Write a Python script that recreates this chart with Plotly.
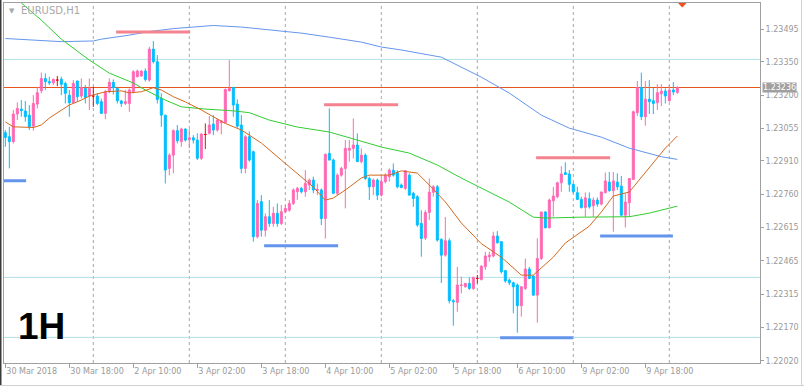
import plotly.graph_objects as go

# ---------------- data ----------------
bar_index = list(range(169))

open_ = [
    1.23035, 1.23017, 1.22995, 1.23118, 1.23140, 1.23131, 1.23113, 1.23064, 1.23162, 1.23222,
    1.23276, 1.23262, 1.23257, 1.23269, 1.23273, 1.23254, 1.23202, 1.23168, 1.23265, 1.23198,
    1.23232, 1.23198, 1.23198, 1.23198, 1.23173, 1.23121, 1.23217, 1.23259, 1.23232, 1.23176,
    1.23165, 1.23165, 1.23217, 1.23284, 1.23287, 1.23309, 1.23269, 1.23407, 1.23351, 1.23187,
    1.23113, 1.22876, 1.22935, 1.23044, 1.22995, 1.23051, 1.23005, 1.23012, 1.23002, 1.22921,
    1.23027, 1.23032, 1.23073, 1.23047, 1.23079, 1.23079, 1.23222, 1.23236, 1.23162, 1.23069,
    1.22876, 1.23017, 1.22950, 1.22572, 1.22728, 1.22601, 1.22661, 1.22631, 1.22676, 1.22631,
    1.22683, 1.22690, 1.22720, 1.22772, 1.22787, 1.22772, 1.22802, 1.22824, 1.22778, 1.22780,
    1.22653, 1.22943, 1.22913, 1.22765, 1.22846, 1.22876, 1.22957, 1.22965, 1.22980, 1.22906,
    1.22935, 1.22831, 1.22794, 1.22824, 1.22757, 1.22817, 1.22839, 1.22868, 1.22857, 1.22802,
    1.22787, 1.22846, 1.22765, 1.22750, 1.22631, 1.22566, 1.22680, 1.22770, 1.22794, 1.22560,
    1.22490, 1.22554, 1.22287, 1.22280, 1.22355, 1.22349, 1.22364, 1.22341, 1.22386, 1.22382,
    1.22438, 1.22483, 1.22486, 1.22575, 1.22550, 1.22421, 1.22379, 1.22367, 1.22357, 1.22265,
    1.22342, 1.22428, 1.22397, 1.22312, 1.22475, 1.22682, 1.22612, 1.22732, 1.22750, 1.22812,
    1.22857, 1.22851, 1.22805, 1.22768, 1.22738, 1.22702, 1.22741, 1.22710, 1.22735, 1.22717,
    1.22768, 1.22815, 1.22777, 1.22815, 1.22797, 1.22668, 1.22723, 1.22827, 1.23124, 1.23236,
    1.23106, 1.23184, 1.23177, 1.23168, 1.23208, 1.23220, 1.23177, 1.23225, 1.23214]

high = [
    1.23047, 1.23061, 1.23136, 1.23170, 1.23180, 1.23176, 1.23158, 1.23202, 1.23239, 1.23303,
    1.23299, 1.23284, 1.23276, 1.23287, 1.23284, 1.23262, 1.23225, 1.23269, 1.23266, 1.23276,
    1.23247, 1.23276, 1.23239, 1.23210, 1.23187, 1.23225, 1.23276, 1.23272, 1.23239, 1.23180,
    1.23225, 1.23232, 1.23313, 1.23316, 1.23313, 1.23321, 1.23417, 1.23443, 1.23380, 1.23210,
    1.23113, 1.22943, 1.23050, 1.23069, 1.23057, 1.23054, 1.23050, 1.23024, 1.23032, 1.23032,
    1.23076, 1.23109, 1.23113, 1.23098, 1.23091, 1.23232, 1.23358, 1.23239, 1.23183, 1.23113,
    1.23024, 1.23040, 1.22955, 1.22735, 1.22757, 1.22676, 1.22735, 1.22705, 1.22720, 1.22713,
    1.22713, 1.22735, 1.22787, 1.22794, 1.22794, 1.22868, 1.22831, 1.22839, 1.22809, 1.22787,
    1.22943, 1.23143, 1.22920, 1.22854, 1.22883, 1.23002, 1.23002, 1.23098, 1.23032, 1.22965,
    1.22943, 1.22839, 1.22831, 1.22831, 1.22839, 1.22854, 1.22876, 1.22898, 1.22868, 1.22809,
    1.22868, 1.22854, 1.22772, 1.22757, 1.22690, 1.22690, 1.22831, 1.22802, 1.22802, 1.22565,
    1.22660, 1.22565, 1.22295, 1.22438, 1.22394, 1.22367, 1.22391, 1.22394, 1.22402, 1.22445,
    1.22505, 1.22505, 1.22594, 1.22597, 1.22550, 1.22424, 1.22386, 1.22372, 1.22364, 1.22352,
    1.22475, 1.22438, 1.22401, 1.22565, 1.22683, 1.22686, 1.22742, 1.22794, 1.22817, 1.22886,
    1.22903, 1.22869, 1.22810, 1.22794, 1.22750, 1.22769, 1.22769, 1.22747, 1.22747, 1.22772,
    1.22857, 1.22860, 1.22860, 1.22854, 1.22842, 1.22765, 1.22833, 1.23133, 1.23265, 1.23302,
    1.23265, 1.23269, 1.23235, 1.23251, 1.23251, 1.23232, 1.23247, 1.23260, 1.23242]

low = [
    1.22972, 1.22876, 1.22987, 1.23091, 1.23106, 1.23084, 1.23047, 1.23044, 1.23143, 1.23210,
    1.23225, 1.23247, 1.23247, 1.23242, 1.23202, 1.23165, 1.23106, 1.23165, 1.23173, 1.23187,
    1.23165, 1.23136, 1.23150, 1.23158, 1.23118, 1.23095, 1.23210, 1.23205, 1.23165, 1.23150,
    1.23158, 1.23128, 1.23210, 1.23281, 1.23284, 1.23262, 1.23262, 1.23343, 1.23165, 1.23061,
    1.22809, 1.22846, 1.22854, 1.22987, 1.22972, 1.22995, 1.22965, 1.22987, 1.22913, 1.22913,
    1.22962, 1.23027, 1.23024, 1.23039, 1.23027, 1.23076, 1.23217, 1.23106, 1.23057, 1.22854,
    1.22854, 1.22906, 1.22550, 1.22564, 1.22572, 1.22572, 1.22616, 1.22616, 1.22616, 1.22624,
    1.22676, 1.22683, 1.22713, 1.22735, 1.22765, 1.22750, 1.22780, 1.22765, 1.22757, 1.22624,
    1.22564, 1.22913, 1.22765, 1.22757, 1.22839, 1.22698, 1.22906, 1.22920, 1.22906, 1.22898,
    1.22824, 1.22735, 1.22757, 1.22735, 1.22750, 1.22809, 1.22817, 1.22839, 1.22787, 1.22787,
    1.22780, 1.22757, 1.22705, 1.22616, 1.22483, 1.22557, 1.22646, 1.22750, 1.22550, 1.22366,
    1.22483, 1.22275, 1.22176, 1.22238, 1.22320, 1.22346, 1.22335, 1.22335, 1.22364, 1.22377,
    1.22424, 1.22461, 1.22480, 1.22542, 1.22408, 1.22367, 1.22357, 1.22231, 1.22145, 1.22216,
    1.22335, 1.22383, 1.22309, 1.22189, 1.22468, 1.22609, 1.22609, 1.22661, 1.22743, 1.22772,
    1.22846, 1.22772, 1.22765, 1.22735, 1.22697, 1.22661, 1.22697, 1.22661, 1.22705, 1.22712,
    1.22765, 1.22772, 1.22594, 1.22780, 1.22664, 1.22613, 1.22661, 1.22824, 1.23109, 1.23091,
    1.23066, 1.23118, 1.23118, 1.23136, 1.23153, 1.23165, 1.23173, 1.23202, 1.23208]

close = [
    1.23014, 1.22995, 1.23118, 1.23143, 1.23133, 1.23106, 1.23061, 1.23165, 1.23213, 1.23276,
    1.23262, 1.23257, 1.23272, 1.23269, 1.23250, 1.23210, 1.23168, 1.23254, 1.23195, 1.23236,
    1.23192, 1.23232, 1.23198, 1.23165, 1.23121, 1.23217, 1.23259, 1.23235, 1.23177, 1.23165,
    1.23173, 1.23225, 1.23306, 1.23309, 1.23309, 1.23272, 1.23407, 1.23351, 1.23183, 1.23113,
    1.22869, 1.22935, 1.23044, 1.22999, 1.23051, 1.23002, 1.23012, 1.23002, 1.22921, 1.23029,
    1.23027, 1.23069, 1.23047, 1.23091, 1.23087, 1.23227, 1.23232, 1.23158, 1.23064, 1.22876,
    1.23017, 1.22913, 1.22572, 1.22720, 1.22601, 1.22661, 1.22631, 1.22676, 1.22631, 1.22683,
    1.22698, 1.22720, 1.22780, 1.22787, 1.22772, 1.22809, 1.22824, 1.22780, 1.22783, 1.22653,
    1.22938, 1.22913, 1.22765, 1.22846, 1.22876, 1.22965, 1.22965, 1.22980, 1.22906, 1.22935,
    1.22831, 1.22794, 1.22824, 1.22757, 1.22817, 1.22846, 1.22868, 1.22846, 1.22794, 1.22791,
    1.22866, 1.22757, 1.22742, 1.22624, 1.22564, 1.22680, 1.22770, 1.22794, 1.22557, 1.22490,
    1.22554, 1.22287, 1.22283, 1.22357, 1.22357, 1.22364, 1.22342, 1.22391, 1.22386, 1.22441,
    1.22486, 1.22490, 1.22575, 1.22545, 1.22416, 1.22375, 1.22367, 1.22349, 1.22265, 1.22349,
    1.22428, 1.22386, 1.22312, 1.22475, 1.22682, 1.22612, 1.22735, 1.22753, 1.22812, 1.22851,
    1.22849, 1.22805, 1.22772, 1.22738, 1.22702, 1.22745, 1.22705, 1.22735, 1.22717, 1.22771,
    1.22820, 1.22777, 1.22820, 1.22794, 1.22668, 1.22726, 1.22831, 1.23128, 1.23236, 1.23106,
    1.23184, 1.23173, 1.23165, 1.23213, 1.23220, 1.23198, 1.23225, 1.23216, 1.23236]

ma_blue_bars = [0, 5, 14, 22, 24, 31, 36, 42, 49, 52, 59, 66, 74, 81, 89, 94, 99, 109, 119, 126,
                134, 141, 149, 156, 164, 168]
ma_blue_vals = [1.23454, 1.23449, 1.23440, 1.23443, 1.23451, 1.23469, 1.23485, 1.23498, 1.23509,
                1.23512, 1.23505, 1.23492, 1.23478, 1.23460, 1.23438, 1.23416, 1.23403, 1.23371,
                1.23282, 1.23211, 1.23113, 1.23055, 1.23015, 1.22966, 1.22928, 1.22916]

ma_green_bars = [0, 4, 9, 14, 21, 26, 32, 35, 40, 44, 50, 57, 61, 66, 73, 81, 88, 94, 101, 108,
                 114, 119, 126, 132, 135, 144, 156, 161, 168]
ma_green_vals = [1.23678, 1.23612, 1.23536, 1.23451, 1.23358, 1.23300, 1.23256, 1.23225, 1.23180,
                 1.23150, 1.23140, 1.23132, 1.23124, 1.23091, 1.23060, 1.23038, 1.23002, 1.22971,
                 1.22944, 1.22891, 1.22833, 1.22789, 1.22726, 1.22659, 1.22655, 1.22659, 1.22661,
                 1.22677, 1.22708]

ma_orange_bars = [0, 2, 7, 9, 11, 14, 16, 19, 21, 25, 29, 31, 34, 37, 39, 42, 45, 49, 52, 55, 59,
                  64, 69, 73, 77, 80, 82, 85, 89, 91, 96, 99, 103, 106, 110, 114, 119, 124, 127,
                  129, 132, 137, 140, 146, 149, 152, 156, 161, 165, 168]
ma_orange_vals = [1.23083, 1.23061, 1.23058, 1.23069, 1.23100, 1.23136, 1.23158, 1.23180, 1.23198,
                  1.23217, 1.23221, 1.23212, 1.23217, 1.23235, 1.23225, 1.23195, 1.23172, 1.23136,
                  1.23106, 1.23076, 1.23047, 1.22989, 1.22913, 1.22855, 1.22793, 1.22735, 1.22744,
                  1.22780, 1.22833, 1.22846, 1.22846, 1.22865, 1.22855, 1.22802, 1.22727, 1.22633,
                  1.22541, 1.22481, 1.22432, 1.22401, 1.22401, 1.22481, 1.22544, 1.22619, 1.22682,
                  1.22753, 1.22771, 1.22882, 1.22966, 1.23020]

# drawn resistance (pink) / support (blue) segments: start bar, end bar, level
res_start = [27.7, 79.7, 132.7]
res_end = [46.2, 98.2, 151.2]
res_level = [1.23483, 1.23159, 1.22923]
sup_start = [-0.33, 64.7, 123.7, 148.7]
sup_end = [5.2, 83.2, 141.9, 166.9]
sup_level = [1.22821, 1.22532, 1.22122, 1.22575]

level_lines = [1.23361, 1.22391, 1.22124]
last_price = 1.23236
day_start_bars = [22, 46, 70, 94, 118, 142, 166]

tick_bars = [0, 16, 32, 48, 64, 80, 96, 112, 128, 144, 160]
tick_labels = ["30 Mar 2018", "30 Mar 18:00", "2 Apr 10:00", "3 Apr 02:00", "3 Apr 18:00",
               "4 Apr 10:00", "5 Apr 02:00", "5 Apr 18:00", "6 Apr 10:00", "9 Apr 02:00",
               "9 Apr 18:00"]
price_ticks = [1.23495, 1.23350, 1.23200, 1.23055, 1.22910, 1.22760, 1.22615, 1.22465,
               1.22315, 1.22170, 1.22020]
price_tick_text = ["1.23495", "1.23350", "1.23200", "1.23055", "1.22910", "1.22760",
                   "1.22615", "1.22465", "1.22315", "1.22170", "1.22020"]

# ---------------- figure ----------------
W, H = 804, 387
ML, MR, MT, MB = 4, 44, 3, 24
PW, PH = W - ML - MR, H - MT - MB

PINK = "#FF69B4"
SKY = "#00BFFF"
AXC = "#A0A0A0"
TXT = "#9A9A9A"

is_doji = [o == c for o, c in zip(open_, close)]


def pick(arr, keep_doji):
    return [v if (d == keep_doji) else None for v, d in zip(arr, is_doji)]


fig = go.Figure()

fig.add_trace(go.Candlestick(
    x=bar_index, open=pick(open_, False), high=pick(high, False),
    low=pick(low, False), close=pick(close, False),
    increasing=dict(line=dict(color=PINK, width=1), fillcolor=PINK),
    decreasing=dict(line=dict(color=SKY, width=1), fillcolor=SKY),
    whiskerwidth=0, hoverinfo="skip", showlegend=False))

fig.add_trace(go.Candlestick(
    x=bar_index, open=pick(open_, True), high=pick(high, True),
    low=pick(low, True), close=pick(close, True),
    increasing=dict(line=dict(color="#FF0000", width=1), fillcolor="#FF0000"),
    decreasing=dict(line=dict(color="#FF0000", width=1), fillcolor="#FF0000"),
    whiskerwidth=0, hoverinfo="skip", showlegend=False))

for xs, ys, col in [(ma_blue_bars, ma_blue_vals, "#6495ED"),
                    (ma_green_bars, ma_green_vals, "#32CD32"),
                    (ma_orange_bars, ma_orange_vals, "#D2691E")]:
    fig.add_trace(go.Scatter(x=xs, y=ys, mode="lines", line=dict(color=col, width=1),
                             hoverinfo="skip", showlegend=False))

for s, e, lv in zip(res_start, res_end, res_level):
    fig.add_trace(go.Scatter(x=[s, e], y=[lv, lv], mode="lines",
                             line=dict(color="#F4838F", width=3),
                             hoverinfo="skip", showlegend=False))
for s, e, lv in zip(sup_start, sup_end, sup_level):
    fig.add_trace(go.Scatter(x=[s, e], y=[lv, lv], mode="lines",
                             line=dict(color="#6495ED", width=3),
                             hoverinfo="skip", showlegend=False))

shapes = []
for b in day_start_bars:
    shapes.append(dict(type="line", xref="x", yref="paper", x0=b, x1=b, y0=0, y1=1,
                       line=dict(color="#A8A8A8", width=1, dash="3px,3px"), layer="below"))
for lv in level_lines:
    shapes.append(dict(type="line", xref="paper", yref="y", x0=0, x1=1, y0=lv, y1=lv,
                       line=dict(color="#B0E0E6", width=1), layer="below"))
shapes.append(dict(type="line", xref="paper", yref="y", x0=0, x1=1, y0=last_price, y1=last_price,
                   line=dict(color="#E8541E", width=1), layer="below"))


def px_x(p):
    return (p - ML) / PW


def px_y(p):
    return 1 - (p - MT) / PH


# window frame
shapes.append(dict(type="line", xref="paper", yref="paper", x0=px_x(0.75), x1=px_x(0.75),
                   y0=px_y(0), y1=px_y(385), line=dict(color="#3A3A3A", width=1.5)))
shapes.append(dict(type="line", xref="paper", yref="paper", x0=px_x(0), x1=px_x(W),
                   y0=px_y(385.5), y1=px_y(385.5), line=dict(color="#D0D0D0", width=1)))
shapes.append(dict(type="line", xref="paper", yref="paper", x0=px_x(801.5), x1=px_x(801.5),
                   y0=px_y(0), y1=px_y(386), line=dict(color="#D0D0D0", width=1)))
# chart-shift marker (small down triangle at the top)
shapes.append(dict(type="path", xref="paper", yref="paper",
                   path=f"M {px_x(678)},{px_y(3)} L {px_x(686.5)},{px_y(3)} L {px_x(682.25)},{px_y(7.5)} Z",
                   fillcolor="#F0501E", line=dict(color="#F0501E", width=0)))

annotations = [
    dict(text="EURUSD,H1", xref="paper", yref="paper", x=0, y=1, xanchor="left", yanchor="middle",
         xshift=15, yshift=-7.5, showarrow=False,
         font=dict(family="DejaVu Sans", size=10, color="#A8A8A8")),
    dict(text="▼", xref="paper", yref="paper", x=0, y=1, xanchor="center", yanchor="middle",
         xshift=7.5, yshift=-7.5, showarrow=False,
         font=dict(family="DejaVu Sans", size=7, color="#A8A8A8")),
    dict(text="1H", xref="paper", yref="paper", x=0, y=0, xanchor="left", yanchor="middle",
         xshift=12, yshift=37, showarrow=False,
         font=dict(family="Liberation Sans", size=37, color="#000000", weight="bold")),
    dict(text=f"{last_price:.5f}", xref="paper", yref="y", x=1, y=last_price, xanchor="left",
         yanchor="middle", xshift=2, showarrow=False, bgcolor="#A0A0A0", borderpad=0,
         font=dict(family="DejaVu Sans", size=8, color="#FFFFFF")),
]

fig.update_layout(
    width=W, height=H, autosize=False,
    margin=dict(l=ML, r=MR, t=MT, b=MB, pad=0),
    paper_bgcolor="white", plot_bgcolor="white",
    showlegend=False,
    boxgap=0.5, boxgroupgap=0,
    shapes=shapes, annotations=annotations,
    xaxis=dict(range=[-0.33, 188.67], rangeslider=dict(visible=False),
               tickmode="array", tickvals=tick_bars, ticktext=tick_labels,
               ticks="outside", ticklen=4, tickcolor=AXC, ticklabelposition="outside right",
               tickfont=dict(family="DejaVu Sans", size=8, color=TXT),
               showgrid=False, zeroline=False, showline=True, linecolor=AXC, linewidth=1,
               mirror=True, fixedrange=True),
    yaxis=dict(side="right", range=[1.22010, 1.23612],
               tickmode="array", tickvals=price_ticks, ticktext=price_tick_text,
               ticks="outside", ticklen=3, tickcolor=AXC,
               tickfont=dict(family="DejaVu Sans", size=8, color=TXT),
               showgrid=False, zeroline=False, showline=True, linecolor=AXC, linewidth=1,
               mirror=True, fixedrange=True),
)

fig.write_html(
    "out.html",
    config={"displayModeBar": False},
    post_script="document.body.style.margin='0';document.body.style.overflow='hidden';",
)
